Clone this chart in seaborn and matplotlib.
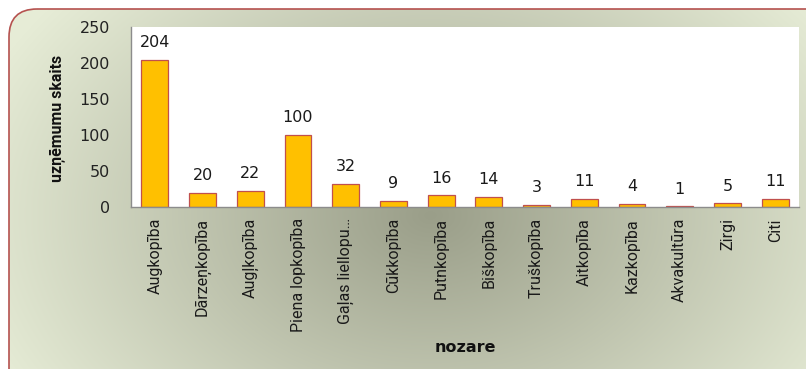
import numpy as np
import pandas as pd
import matplotlib
matplotlib.use("Agg")
import matplotlib.pyplot as plt
from matplotlib.patches import FancyBboxPatch
import seaborn as sns

# Uzņēmumu skaits pa nozarēm
nozares = [
    "Augkopība", "Dārzeņkopība", "Augļkopība", "Piena lopkopība",
    "Gaļas liellopu…", "Cūkkopība", "Putnkopība", "Biškopība",
    "Truškopība", "Aitkopība", "Kazkopība", "Akvakultūra", "Zirgi", "Citi",
]
skaits = [204, 20, 22, 100, 32, 9, 16, 14, 3, 11, 4, 1, 5, 11]
y_ticks = [0, 50, 100, 150, 200, 250]

df = pd.DataFrame({"nozare": nozares, "skaits": skaits})

sns.set_theme(style="white")
narrow = ["Roboto", "DejaVu Sans"]

W, H = 806, 369
fig = plt.figure(figsize=(W / 100, H / 100), dpi=100)
fig.patch.set_facecolor("white")

# Background panel: rounded frame with a soft radial shading
bg = fig.add_axes([0, 0, 1, 1])
bg.set_xlim(0, W)
bg.set_ylim(H, 0)
bg.axis("off")
yy, xx = np.mgrid[0:H, 0:W]
d = np.sqrt(((xx - 430) / 480.0) ** 2 + ((yy - 215) / 340.0) ** 2)
f = np.clip(d, 0, 1)
dark = np.array([0x9a, 0x9e, 0x89]) / 255.0
light = np.array([0xe6, 0xec, 0xd6]) / 255.0
img = dark[None, None, :] + (light - dark)[None, None, :] * f[..., None]
frame = FancyBboxPatch((9, 9), W - 9 + 30, H - 9 + 30,
                       boxstyle="round,pad=0,rounding_size=28",
                       ec="#b5524f", fc="none", lw=1.2, transform=bg.transData)
im = bg.imshow(img, extent=[0, W, H, 0], aspect="auto", interpolation="bilinear")
im.set_clip_path(frame)
bg.add_patch(frame)

# Bar chart
ax = fig.add_axes([131 / W, (H - 207) / H, (799 - 131) / W, (207 - 27) / H])
ax.set_facecolor("white")
sns.barplot(data=df, x="nozare", y="skaits", ax=ax, color="#FFC000",
            saturation=1, width=0.56, edgecolor="#C0504D", linewidth=0.9)
ax.set_ylim(0, 250)
ax.set_xlim(-0.5, len(nozares) - 0.5)
ax.set_yticks(y_ticks)
ax.set_yticklabels([str(t) for t in y_ticks], fontsize=11.5, color="#222222")
ax.tick_params(axis="y", length=0, pad=15)
ax.tick_params(axis="x", length=0, pad=8)
ax.set_xticks(range(len(nozares)))
ax.set_xticklabels(nozares, rotation=90, family=narrow, fontsize=11.5,
                   color="#1a1a1a", va="top", ha="center")
for s in ["top", "right"]:
    ax.spines[s].set_visible(False)
for s in ["left", "bottom"]:
    ax.spines[s].set_color("#8c8c8c")
    ax.spines[s].set_linewidth(1.0)

for c in ax.containers:
    ax.bar_label(c, labels=[str(v) for v in skaits], padding=7,
                 fontsize=11.5, color="#1a1a1a")

ax.set_xlabel("")
ax.set_ylabel("")
fig.text(57 / W, 1 - 118 / H, "uzņēmumu skaits", rotation=90, ha="center",
         va="center", family=narrow, fontweight="bold", fontsize=11.5, color="#111111")
fig.text(465 / W, 1 - 347 / H, "nozare", ha="center", va="center",
         fontweight="bold", fontsize=11.5, color="#111111")

fig.savefig("out.png", dpi=100)
